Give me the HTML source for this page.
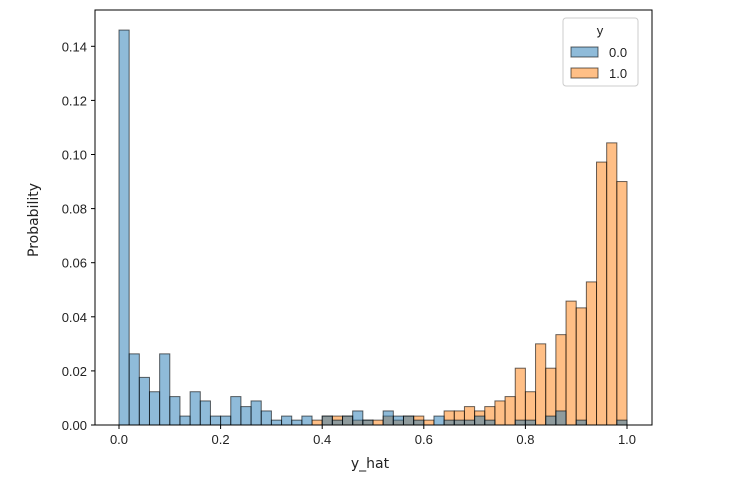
<!DOCTYPE html>
<html><head><meta charset="utf-8"><style>body{margin:0;background:#fff}svg{font-family:"Liberation Sans","DejaVu Sans",sans-serif}</style></head>
<body>
<svg id="c" width="755" height="483"></svg>
<script>
const binStarts = Array.from({length:50},(_,i)=>i*0.02);
const blueVals = [0.146,0.0263,0.0176,0.0123,0.0263,0.0105,0.0033,0.0123,0.0089,0.0033,0.0033,0.0105,0.0068,0.0089,0.0052,0.0018,0.0033,0.0018,0.0033,0,0.0033,0.0018,0.0033,0.0052,0.0018,0,0.0052,0.0033,0.0033,0.0018,0,0.0033,0.0018,0.0018,0.0018,0.0033,0.0018,0,0,0.0018,0.0018,0,0.0033,0.0052,0,0.0018,0,0,0,0.0018];
const orangeVals = [0,0,0,0,0,0,0,0,0,0,0,0,0,0,0,0,0,0,0,0.0018,0.0033,0.0033,0.0033,0.0018,0.0018,0.0018,0.0033,0.0018,0.0033,0.0033,0.0018,0,0.0052,0.0052,0.0068,0.0052,0.0068,0.0089,0.0105,0.021,0.0123,0.030,0.021,0.0334,0.0458,0.0433,0.0529,0.0972,0.1043,0.090];
const xTicks = [0,0.2,0.4,0.6,0.8,1.0];
const yTicks = [0,0.02,0.04,0.06,0.08,0.10,0.12,0.14];
const L=95,R=652,T=10,B=425;
const xs=v=>119+v*508, ys=v=>B-v*2705;
const svg=document.getElementById('c');const NS='http://www.w3.org/2000/svg';
function mk(t,a,p){const e=document.createElementNS(NS,t);for(const k in a)e.setAttribute(k,a[k]);(p||svg).appendChild(e);return e;}
function bars(vals,col,name){vals.forEach((v,i)=>{if(v<=0)return;const x0=xs(binStarts[i]),x1=xs(binStarts[i]+0.02);
const r=mk('rect',{x:x0,y:ys(v),width:x1-x0,height:B-ys(v),fill:col,'fill-opacity':0.5,stroke:'#000','stroke-opacity':0.6,'stroke-width':1});

});}
bars(orangeVals,'#ff7f0e','class-1');
bars(blueVals,'#1f77b4','class-0');
mk('rect',{x:L,y:T,width:R-L,height:B-T,fill:'none',stroke:'#000','stroke-width':1,});
xTicks.forEach(t=>{const x=xs(t);mk('line',{x1:x,x2:x,y1:B,y2:B+4,stroke:'#000'});
const e=mk('text',{x:x,y:B+19,'text-anchor':'middle','font-size':13,fill:'#222'});e.textContent=t.toFixed(1);

});
yTicks.forEach(t=>{const y=ys(t);mk('line',{x1:L-4,x2:L,y1:y,y2:y,stroke:'#000'});
const e=mk('text',{x:L-8,y:y+5,'text-anchor':'end','font-size':13,fill:'#222'});e.textContent=t.toFixed(2);

});
</script>
<svg width="755" height="483" style="position:absolute;left:0;top:0">
<text x="370" y="468" text-anchor="middle" font-size="14" fill="#222" style="font-family:'DejaVu Sans',sans-serif">y_hat</text>
<text transform="translate(38,220) rotate(-90)" text-anchor="middle" font-size="14" fill="#222" style="font-family:'DejaVu Sans',sans-serif">Probability</text>
<g>
<rect x="563" y="18" width="75" height="68" rx="3" fill="#fff" fill-opacity="0.8" stroke="#ccc"/>
<text x="600" y="35" text-anchor="middle" font-size="13" fill="#222">y</text>
<rect x="571" y="47" width="27" height="10" fill="#1f77b4" fill-opacity="0.5" stroke="#000" stroke-opacity="0.6"/>
<text x="609" y="57" font-size="13" fill="#222">0.0</text>
<rect x="571" y="68" width="27" height="10" fill="#ff7f0e" fill-opacity="0.5" stroke="#000" stroke-opacity="0.6"/>
<text x="609" y="78" font-size="13" fill="#222">1.0</text>
</g>
</svg>
</body></html>
